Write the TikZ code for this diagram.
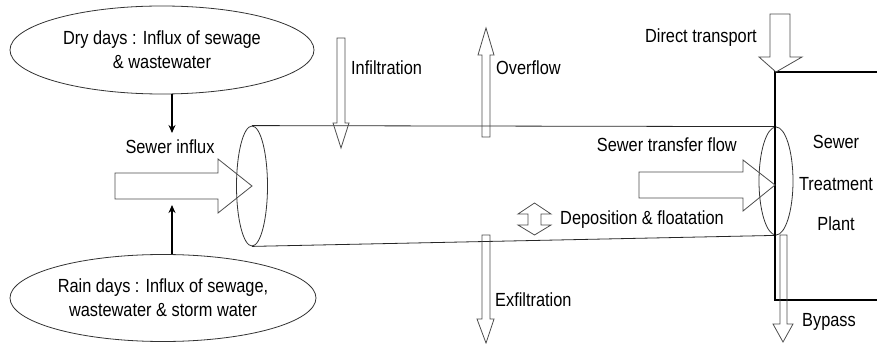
\documentclass[tikz,border=0pt]{standalone}
\usepackage{fontspec}
\setmainfont{Liberation Sans}[FakeStretch=0.86]
\usetikzlibrary{shapes.geometric,arrows.meta}

\begin{document}
\begin{tikzpicture}[x=1pt,y=-1pt,
  txt/.style={font=\fontsize{19}{24}\selectfont},
  lbl/.style={txt,inner sep=0pt},
  bubble/.style={txt,draw=black!80,ellipse,line width=0.8pt,inner sep=0pt,align=center},
  pipeend/.style={draw=black!80,ellipse,line width=0.8pt,inner sep=0pt},
  pipe/.style={draw=black!85,line width=0.8pt},
  hollow/.style={draw=black!70,line width=0.8pt,line join=miter},
  feed/.style={-{Stealth[length=8pt,width=7pt]},line width=1.8pt},
  plant/.style={line width=2pt,line cap=rect}]
\useasboundingbox (0,0) rectangle (877,344);

% source bubbles
\node[bubble,minimum width=304pt,minimum height=88pt] (dry) at (162,50)
  {Dry days : Influx of sewage\\ \& wastewater};
\node[bubble,minimum width=306pt,minimum height=87pt] (rain) at (163,298)
  {Rain days : Influx of sewage,\\ wastewater \& storm water};

% sewer pipe
\node[pipeend,minimum width=31pt,minimum height=120pt] (inlet) at (252,186) {};
\node[pipeend,minimum width=34pt,minimum height=108pt] (outlet) at (776,181) {};
\draw[pipe] (inlet.north) -- (outlet.north);
\draw[pipe] (inlet.south) -- (outlet.south);

% treatment plant
\draw[plant] (877,72) -- (775,72) -- (775,300) -- (877,300);
\node[lbl] (sewer) at (836,142) {Sewer};
\node[lbl] (treat) at (836,184) {Treatment};
\node[lbl] (plantlbl) at (836,224) {Plant};

% feeds into the sewer influx
\coordinate (drytip) at (172,133);
\coordinate (raintip) at (172,205);
\draw[feed] (dry.south -| drytip) -- (drytip);
\draw[feed] (rain.north -| raintip) -- (raintip);
\node[lbl] (influx) at (170,147) {Sewer influx};

% block arrows
\draw[hollow] (115,173) -- (218,173) -- (218,159) -- (252,186) -- (218,213) -- (218,199) -- (115,199) -- cycle;
\draw[hollow] (639,172) -- (743,172) -- (743,160) -- (775,185) -- (743,211) -- (743,198) -- (639,198) -- cycle;
% infiltration
\draw[hollow] (337,38) -- (345,38) -- (345,123) -- (349,123) -- (341,148) -- (333,123) -- (337,123) -- cycle;
% overflow
\draw[hollow] (482,137) -- (482,55) -- (478,55) -- (486,28) -- (494,55) -- (490,55) -- (490,137) -- cycle;
% exfiltration
\draw[hollow] (482,235) -- (490,235) -- (490,319) -- (494,319) -- (486,343) -- (477,319) -- (482,319) -- cycle;
% direct transport
\draw[hollow] (770,14) -- (790,14) -- (790,57) -- (802,57) -- (776,72) -- (759,57) -- (770,57) -- cycle;
% bypass
\draw[hollow] (780,235) -- (787,235) -- (787,324) -- (793,324) -- (783,342) -- (773,324) -- (780,324) -- cycle;
% deposition & floatation
\draw[hollow] (534.5,203) -- (551,214) -- (541,214) -- (541,225) -- (551,225) -- (534.5,235)
  -- (518,225) -- (528,225) -- (528,214) -- (518,214) -- cycle;

% flow labels
\node[lbl,anchor=west] (infil) at (351,68) {Infiltration};
\node[lbl,anchor=west] (over) at (496,68) {Overflow};
\node[lbl,anchor=east] (direct) at (757,38) {Direct transport};
\node[lbl,anchor=east] (transfer) at (737,145) {Sewer transfer flow};
\node[lbl,anchor=west] (depo) at (560,220) {Deposition \& floatation};
\node[lbl,anchor=west] (exfil) at (495,300) {Exfiltration};
\node[lbl,anchor=west] (bypass) at (802,322) {Bypass};
\end{tikzpicture}
\end{document}
